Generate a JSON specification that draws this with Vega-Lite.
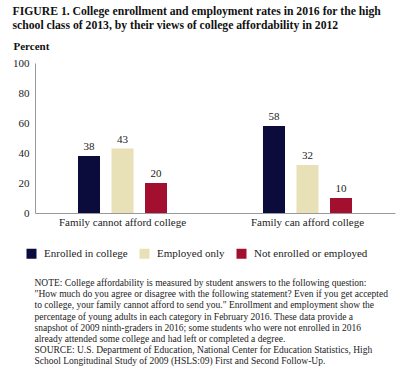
{
  "$schema": "https://vega.github.io/schema/vega-lite/v6.json",
  "padding": {"left": 12, "top": 5, "right": 0, "bottom": 0},
  "background": "white",
  "title": {
    "text": ["FIGURE 1. College enrollment and employment rates in 2016 for the high", "school class of 2013, by their views of college affordability in 2012"],
    "anchor": "start",
    "font": "Liberation Serif",
    "fontSize": 11.7,
    "fontWeight": "bold",
    "lineHeight": 14.5,
    "color": "#111111",
    "offset": 8
  },
  "config": {
    "view": {"stroke": null},
    "font": "Liberation Serif",
    "concat": {"spacing": 19}
  },
  "resolve": {"legend": {"color": "independent"}},
  "vconcat": [
    {
      "width": 360,
      "height": 150,
      "data": {
        "values": [
          {"group": "Family cannot afford college", "status": "Enrolled in college", "value": 38},
          {"group": "Family cannot afford college", "status": "Employed only", "value": 43},
          {"group": "Family cannot afford college", "status": "Not enrolled or employed", "value": 20},
          {"group": "Family can afford college", "status": "Enrolled in college", "value": 58},
          {"group": "Family can afford college", "status": "Employed only", "value": 32},
          {"group": "Family can afford college", "status": "Not enrolled or employed", "value": 10}
        ]
      },
      "encoding": {
        "x": {
          "field": "group",
          "type": "nominal",
          "sort": ["Family cannot afford college", "Family can afford college"],
          "scale": {"paddingInner": 0.3, "paddingOuter": 0.123},
          "title": null,
          "axis": {
            "labelAngle": 0,
            "ticks": false,
            "tickSize": 0,
            "labelPadding": 3,
            "labelFontSize": 11,
            "labelFont": "Liberation Serif",
            "labelColor": "#222222",
            "domainColor": "#999999",
            "domainWidth": 1
          }
        },
        "xOffset": {
          "field": "status",
          "sort": ["Enrolled in college", "Employed only", "Not enrolled or employed"],
          "scale": {"paddingInner": 0.343, "paddingOuter": 0.604}
        },
        "y": {
          "field": "value",
          "type": "quantitative",
          "scale": {"domain": [0, 100]},
          "axis": {
            "values": [0, 20, 40, 60, 80, 100],
            "grid": false,
            "ticks": false,
            "tickSize": 0,
            "labelPadding": 6,
            "labelFontSize": 11,
            "labelFont": "Liberation Serif",
            "labelColor": "#222222",
            "domainColor": "#999999",
            "title": "Percent",
            "titleAngle": 0,
            "titleAlign": "left",
            "titleBaseline": "alphabetic",
            "titleX": -22,
            "titleY": -14,
            "titleFontSize": 11,
            "titleFontWeight": "bold",
            "titleFont": "Liberation Serif",
            "titleColor": "#111111"
          }
        }
      },
      "layer": [
        {
          "mark": {"type": "bar"},
          "encoding": {
            "color": {
              "field": "status",
              "type": "nominal",
              "scale": {
                "domain": ["Enrolled in college", "Employed only", "Not enrolled or employed"],
                "range": ["#0b0b3c", "#e8e0b6", "#a30f2e"]
              },
              "legend": {
                "orient": "none",
                "legendX": -9,
                "legendY": 185,
                "direction": "horizontal",
                "title": null,
                "symbolType": "square",
                "symbolSize": 100,
                "symbolStrokeWidth": 0,
                "symbolOpacity": 1,
                "labelFontSize": 11,
                "labelFont": "Liberation Serif",
                "labelColor": "#222222",
                "labelOffset": 7,
                "columnPadding": 11
              }
            }
          }
        },
        {
          "mark": {"type": "text", "baseline": "alphabetic", "dy": -6, "fontSize": 11, "font": "Liberation Serif", "color": "#222222"},
          "encoding": {"text": {"field": "value", "type": "quantitative"}}
        }
      ]
    },
    {
      "width": 380,
      "height": 1,
      "data": {"values": [{}]},
      "mark": {"type": "rule", "opacity": 0},
      "encoding": {},
      "title": {
        "text": [
          "NOTE: College affordability is measured by student answers to the following question:",
          "\"How much do you agree or disagree with the following statement? Even if you get accepted",
          "to college, your family cannot afford to send you.\" Enrollment and employment show the",
          "percentage of young adults in each category in February 2016. These data provide a",
          "snapshot of 2009 ninth-graders in 2016; some students who were not enrolled in 2016",
          "already attended some college and had left or completed a degree.",
          "SOURCE: U.S. Department of Education, National Center for Education Statistics, High",
          "School Longitudinal Study of 2009 (HSLS:09) First and Second Follow-Up."
        ],
        "anchor": "start",
        "font": "Liberation Serif",
        "fontSize": 9.5,
        "fontWeight": "normal",
        "lineHeight": 11.1,
        "color": "#222222",
        "offset": 0
      }
    }
  ]
}
